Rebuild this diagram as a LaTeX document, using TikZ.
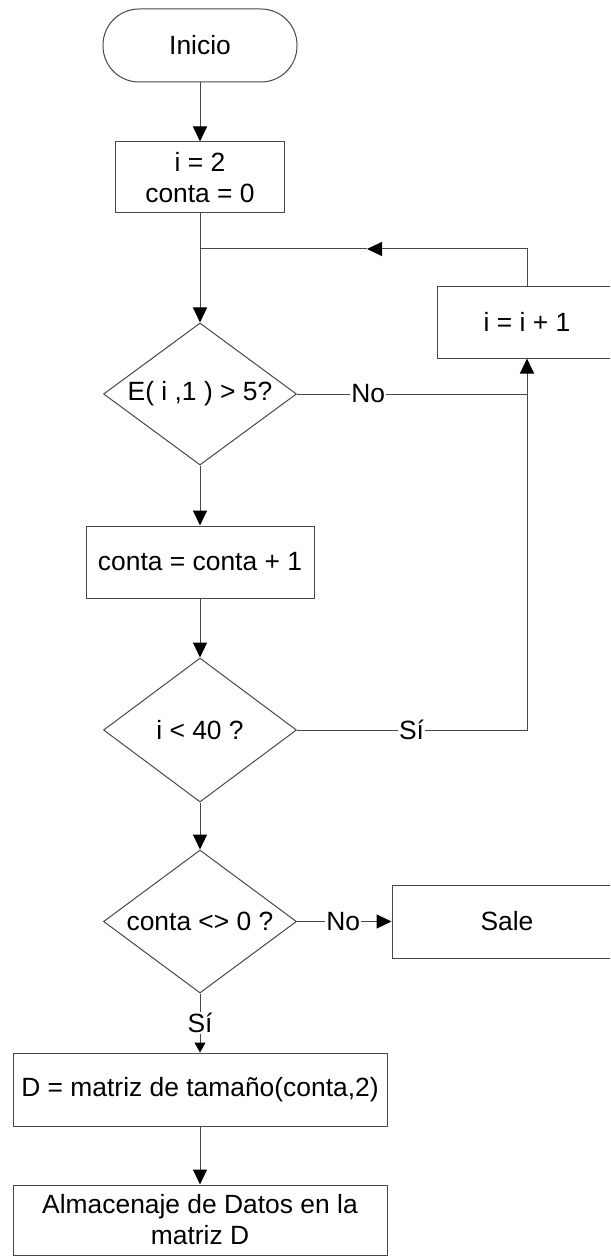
\documentclass[tikz,border=0pt]{standalone}
\usepackage{fontspec}
\setmainfont{Liberation Sans}
\usetikzlibrary{arrows.meta,shapes.geometric}
\begin{document}
\begin{tikzpicture}[x=1pt,y=-1pt,
  line width=1pt,
  every node/.style={font=\fontsize{26.4pt}{31pt}\selectfont, text=black},
  flow/.style={draw=black!72},
  proc/.style={flow, rectangle, inner sep=0pt, align=center},
  term/.style={flow, rectangle, rounded corners=36pt, inner sep=0pt},
  decide/.style={flow, diamond, inner sep=0pt, aspect=1},
  lbl/.style={fill=white, inner sep=1.2pt},
  arr/.style={flow, -{Triangle[length=15pt,width=14pt,color=black]}},
  arrsmall/.style={flow, -{Triangle[length=10pt,width=11pt,color=black]}}
]
\useasboundingbox (0,0) rectangle (610,1257);
\clip (0,0) rectangle (610,1257);

% main column
\node[term, minimum width=194pt, minimum height=73pt] (ini) at (200,45.5) {Inicio};
\node[proc, minimum width=169pt, minimum height=71pt] (init) at (200,177.5) {i = 2\\conta = 0};
\node[decide, minimum width=193pt, minimum height=142pt,
      label={center:E( i ,1 ) > 5?}] (d1) at (200,394) {};
\node[proc, minimum width=228pt, minimum height=72pt] (inc) at (200,562) {conta = conta + 1};
\node[decide, minimum width=193pt, minimum height=144pt,
      label={center:i < 40 ?}] (d2) at (200,730) {};
\node[decide, minimum width=193pt, minimum height=143pt,
      label={center:conta <> 0 ?}] (d3) at (200,921.5) {};
\node[proc, minimum width=374pt, minimum height=73pt] (mat) at (200,1089.5) {D = matriz de tamaño(conta,2)};
\node[proc, minimum width=374pt, minimum height=70pt] (store) at (200,1220) {Almacenaje de Datos en la\\matriz D};

% right column
\node[proc, minimum width=180pt, minimum height=72pt] (step1) at (527,322) {i = i + 1};
\node[proc, minimum width=230pt, minimum height=73pt] (sale) at (507,921.5) {Sale};

% loop junctions
\coordinate (join) at (200,249);
\coordinate (joinarr) at (367,249);
\coordinate (merge) at (527,394);

% connectors
\draw[arr] (ini) -- (init);
\draw[arr] (init) -- (d1);
\draw[arr] (step1.north) |- (joinarr);
\draw[flow] (joinarr) -- (join);
\draw[flow] (d1.east) -- node[lbl, pos=0.31] {No} (merge);
\draw[arr] (merge) -- (step1.south);
\draw[arr] (d1) -- (inc);
\draw[arr] (inc) -- (d2);
\draw[flow] (d2.east) -| node[lbl, pos=0.249] {Sí} (merge);
\draw[arr] (d2) -- (d3);
\draw[arr] (d3.east) -- node[lbl, pos=0.49] {No} (sale);
\draw[arrsmall] (d3.south) -- node[lbl] {Sí} (mat);
\draw[arr] (mat) -- (store);
\end{tikzpicture}
\end{document}
